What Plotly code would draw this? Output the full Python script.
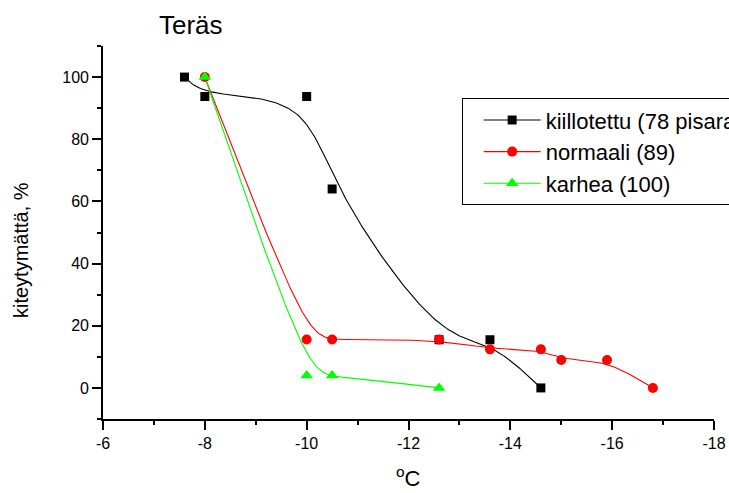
import numpy as np
import plotly.graph_objects as go

# Temperature (°C) and share of droplets still unfrozen (%) per steel surface
kiillotettu_x = [-7.6, -8.0, -10.0, -10.5, -12.6, -13.6, -14.6]
kiillotettu_y = [100.0, 93.75, 93.75, 64.0, 15.5, 15.5, 0.0]

normaali_x = [-8.0, -10.0, -10.5, -12.6, -13.6, -14.6, -15.0, -15.9, -16.8]
normaali_y = [100.0, 15.6, 15.6, 15.6, 12.4, 12.4, 9.0, 9.0, 0.0]

karhea_x = [-8.0, -10.0, -10.5, -12.6]
karhea_y = [100.0, 4.0, 4.0, 0.0]

series_names = ["kiillotettu (78 pisaraa)", "normaali (89)", "karhea (100)"]
series_colors = ["#000000", "#ff0000", "#00ff00"]
series_symbols = ["square", "circle", "triangle-up"]
series_sizes = [9, 10, 11]

x_ticks = [-6, -8, -10, -12, -14, -16, -18]
y_ticks = [0, 20, 40, 60, 80, 100]

FONT = "Liberation Sans, Arial, sans-serif"


def bspline(xs, ys, samples_per_seg=40):
    """Uniform cubic B-spline with the data points as control points;
    end points are tripled so the curve starts and ends on them."""
    pts = np.column_stack([xs, ys]).astype(float)
    q = np.vstack([pts[:1], pts[:1], pts, pts[-1:], pts[-1:]])
    u = np.linspace(0.0, 1.0, samples_per_seg)
    b0 = (1 - u) ** 3 / 6
    b1 = (3 * u ** 3 - 6 * u ** 2 + 4) / 6
    b2 = (-3 * u ** 3 + 3 * u ** 2 + 3 * u + 1) / 6
    b3 = u ** 3 / 6
    segs = []
    for i in range(len(q) - 3):
        seg = (np.outer(b0, q[i]) + np.outer(b1, q[i + 1])
               + np.outer(b2, q[i + 2]) + np.outer(b3, q[i + 3]))
        segs.append(seg if i == 0 else seg[1:])
    out = np.vstack(segs)
    return out[:, 0], out[:, 1]


fig = go.Figure()
data = [(kiillotettu_x, kiillotettu_y), (normaali_x, normaali_y), (karhea_x, karhea_y)]

# Smoothed connecting curves
for (xs, ys), col in zip(data, series_colors):
    cx, cy = bspline(xs, ys)
    fig.add_trace(go.Scatter(x=cx, y=cy, mode="lines", line=dict(color=col, width=1.1),
                             showlegend=False, hoverinfo="skip"))

# Measured points
for (xs, ys), name, col, sym, sz in zip(data, series_names, series_colors, series_symbols, series_sizes):
    fig.add_trace(go.Scatter(x=xs, y=ys, mode="markers", name=name, showlegend=False,
                             marker=dict(color=col, symbol=sym, size=sz, line=dict(width=0))))

# Legend entries (line + symbol)
for name, col, sym, sz in zip(series_names, series_colors, series_symbols, series_sizes):
    fig.add_trace(go.Scatter(x=[None], y=[None], mode="lines+markers", name=name,
                             line=dict(color=col, width=1.1),
                             marker=dict(color=col, symbol=sym, size=sz, line=dict(width=0))))

axis_common = dict(
    showgrid=False, zeroline=False, showline=True, linecolor="#000000", linewidth=1.6,
    ticks="outside", ticklen=9, tickwidth=1.5, tickcolor="#000000",
    tickfont=dict(family=FONT, size=16, color="#000000"), mirror=False,
)

fig.update_xaxes(range=[-6, -18], tickvals=x_ticks, ticktext=[str(v) for v in x_ticks],
                 minor=dict(ticks="outside", ticklen=4, tickwidth=1.5, tickcolor="#000000", dtick=1),
                 **axis_common)
fig.update_yaxes(range=[-10, 110], tickvals=y_ticks, ticktext=[str(v) for v in y_ticks],
                 minor=dict(ticks="outside", ticklen=4, tickwidth=1.5, tickcolor="#000000", dtick=10, tick0=0),
                 **axis_common)

fig.update_layout(
    width=729, height=493,
    margin=dict(l=103, r=15, t=46, b=74, autoexpand=False),
    paper_bgcolor="#ffffff", plot_bgcolor="#ffffff",
    font=dict(family=FONT, color="#000000"),
    legend=dict(x=0.587, y=0.860, xanchor="left", yanchor="top",
                bordercolor="#000000", borderwidth=1, bgcolor="rgba(255,255,255,0)",
                font=dict(family=FONT, size=22, color="#000000"),
                itemwidth=57, indentation=16, tracegroupgap=0),
    annotations=[
        dict(text="Teräs", xref="paper", yref="paper", x=(191 - 103) / 611, y=(419 - 25) / 373,
             xanchor="center", yanchor="middle", showarrow=False,
             font=dict(family=FONT, size=26, color="#000000")),
        dict(text="kiteytymättä, %", xref="paper", yref="paper", x=(21 - 103) / 611, y=(419 - 250) / 373,
             xanchor="center", yanchor="middle", textangle=-90, showarrow=False,
             font=dict(family=FONT, size=20, color="#000000")),
        dict(text="<sup>o</sup>C", xref="paper", yref="paper", x=(408 - 103) / 611, y=(419 - 477) / 373,
             xanchor="center", yanchor="middle", showarrow=False,
             font=dict(family=FONT, size=22, color="#000000")),
    ],
)

fig.write_html("out.html")
